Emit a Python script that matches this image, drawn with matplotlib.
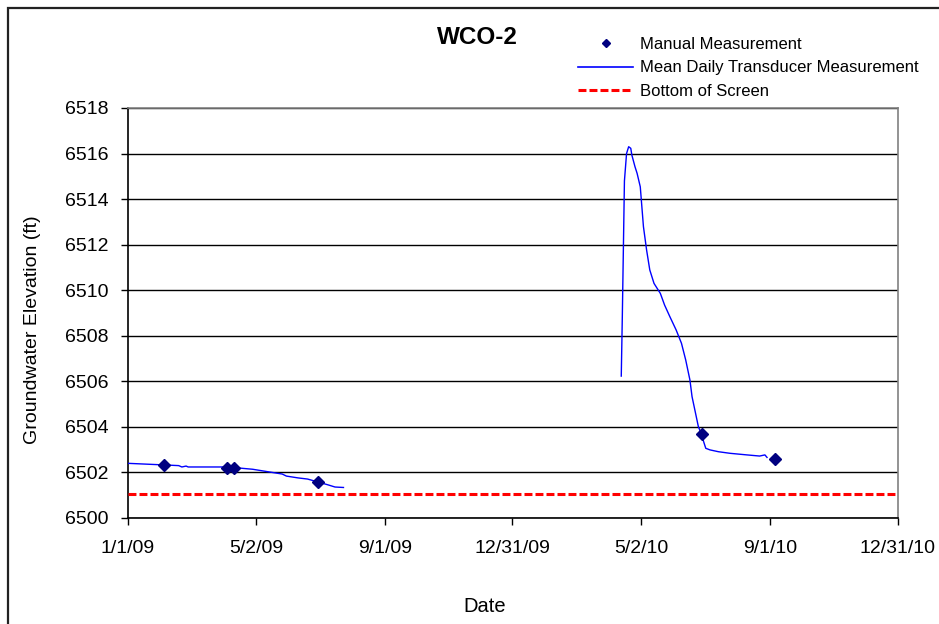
import matplotlib
matplotlib.use("Agg")
import matplotlib.pyplot as plt
from matplotlib.lines import Line2D
from matplotlib.patches import Rectangle
import pandas as pd

plt.rcParams['font.family'] = ['Liberation Sans', 'DejaVu Sans']

# ---- data ----
manual_dates = ["2009-02-04", "2009-04-05", "2009-04-11", "2009-06-30",
                "2010-06-28", "2010-09-06"]
manual_values = [6502.33, 6502.20, 6502.20, 6501.59, 6503.67, 6502.60]

trans1_dates = ["2009-01-01", "2009-02-04", "2009-02-18", "2009-02-21", "2009-02-25",
                "2009-02-27", "2009-04-05", "2009-04-17", "2009-04-29", "2009-05-15",
                "2009-05-27", "2009-05-31", "2009-06-11", "2009-06-20", "2009-06-30",
                "2009-07-09", "2009-07-16", "2009-07-24"]
trans1_values = [6502.40, 6502.33, 6502.30, 6502.24, 6502.28,
                 6502.24, 6502.24, 6502.19, 6502.14, 6502.02,
                 6501.93, 6501.84, 6501.76, 6501.71, 6501.58,
                 6501.46, 6501.36, 6501.34]

trans2_dates = ["2010-04-13", "2010-04-14", "2010-04-16", "2010-04-18", "2010-04-20",
                "2010-04-22", "2010-04-23", "2010-04-26", "2010-04-28", "2010-05-01",
                "2010-05-04", "2010-05-07", "2010-05-10", "2010-05-14", "2010-05-20",
                "2010-05-24", "2010-05-29", "2010-06-04", "2010-06-09", "2010-06-13",
                "2010-06-17", "2010-06-19", "2010-06-22", "2010-06-25", "2010-06-28",
                "2010-06-30", "2010-07-02", "2010-07-06", "2010-07-14", "2010-07-25",
                "2010-08-10", "2010-08-22", "2010-08-27", "2010-08-29"]
trans2_values = [6506.23, 6508.85, 6514.80, 6516.00, 6516.30,
                 6516.23, 6515.94, 6515.42, 6515.13, 6514.54,
                 6512.79, 6511.76, 6510.89, 6510.30, 6509.86,
                 6509.35, 6508.84, 6508.25, 6507.67, 6506.94,
                 6506.06, 6505.33, 6504.67, 6504.01, 6503.67,
                 6503.35, 6503.06, 6502.99, 6502.91, 6502.84,
                 6502.77, 6502.72, 6502.77, 6502.66]

bottom_of_screen = 6501.05

x_tick_dates = ["2009-01-01", "2009-05-02", "2009-09-01", "2009-12-31",
                "2010-05-02", "2010-09-01", "2010-12-31"]
x_tick_labels = ["1/1/09", "5/2/09", "9/1/09", "12/31/09", "5/2/10", "9/1/10", "12/31/10"]
y_ticks = [6500, 6502, 6504, 6506, 6508, 6510, 6512, 6514, 6516, 6518]

# ---- figure ----
W, H = 939, 624
fig = plt.figure(figsize=(W / 100, H / 100), dpi=100)
L, R, T, B = 128, 898, 108, 518
ax = fig.add_axes([L / W, 1 - B / H, (R - L) / W, (B - T) / H])

# outer chart border
fig.patches.append(Rectangle((8 / W, -0.1), 1.2, 1 - 8 / H + 0.1, transform=fig.transFigure,
                             fill=False, edgecolor='#222222', linewidth=1.6))

xmin = pd.Timestamp(x_tick_dates[0])
xmax = pd.Timestamp(x_tick_dates[-1])

ax.axhline(bottom_of_screen, color='#FF0000', linewidth=2.2, dashes=(2.6, 1.0), zorder=3)
ax.plot(pd.to_datetime(trans1_dates), trans1_values, color='#0000FF', linewidth=1.0, zorder=4)
ax.plot(pd.to_datetime(trans2_dates), trans2_values, color='#0000FF', linewidth=1.0, zorder=4)
ax.plot(pd.to_datetime(manual_dates), manual_values, linestyle='none', marker='D',
        markersize=6.2, color='#000080', zorder=5)

ax.set_xlim(xmin, xmax)
ax.set_ylim(6500, 6518)
ax.set_xticks(pd.to_datetime(x_tick_dates))
ax.set_xticklabels(x_tick_labels)
ax.set_yticks(y_ticks)
ax.set_yticklabels([str(v) for v in y_ticks])

ax.yaxis.grid(True, color='black', linewidth=1.0, zorder=1)
ax.set_axisbelow(True)
ax.tick_params(axis='both', direction='out', length=5, width=1, labelsize=14, colors='black')
ax.tick_params(axis='x', pad=11)
ax.tick_params(axis='y', pad=9)

for s in ['left', 'bottom']:
    ax.spines[s].set_color('black')
    ax.spines[s].set_linewidth(1.2)
for s in ['top', 'right']:
    ax.spines[s].set_color('#808080')
    ax.spines[s].set_linewidth(1.2)

ax.set_xlabel("Date", fontsize=14.5, va='center')
ax.xaxis.set_label_coords((485 - L) / (R - L), (B - 606) / (B - T))
ax.set_ylabel("Groundwater Elevation (ft)", fontsize=14, va='center')
ax.yaxis.set_label_coords((32 - L) / (R - L), (B - 330) / (B - T))

fig.text(477 / W, 1 - 37 / H, "WCO-2", fontsize=17.5, fontweight='bold',
         ha='center', va='center')

handles = [Line2D([], [], linestyle='none', marker='D', markersize=4.5, color='#000080'),
           Line2D([], [], color='#0000FF', linewidth=1.2),
           Line2D([], [], color='#FF0000', linewidth=2.2, dashes=(2.6, 1.0))]
labels = ["Manual Measurement", "Mean Daily Transducer Measurement", "Bottom of Screen"]
fig.legend(handles, labels, loc='upper left', bbox_to_anchor=(578 / W, 1 - 37 / H),
           frameon=False, fontsize=12, handlelength=3.3, handletextpad=0.45,
           labelspacing=0.5, borderpad=0, borderaxespad=0)

fig.savefig("out.png", dpi=100)
